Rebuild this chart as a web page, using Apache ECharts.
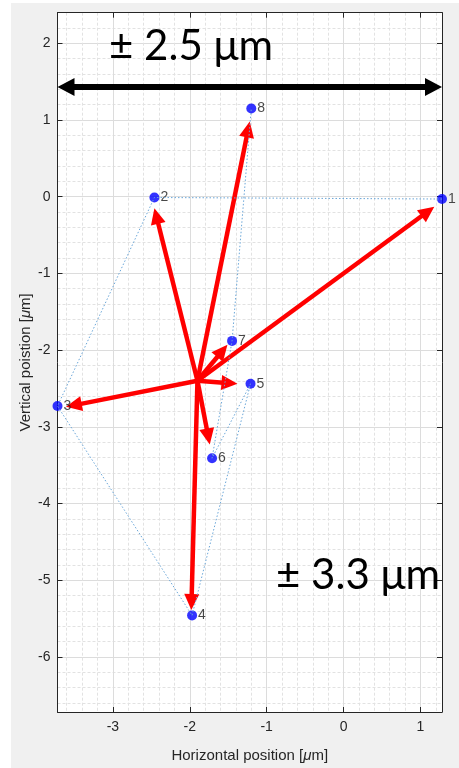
<!DOCTYPE html>
<html lang="en">
<head>
<meta charset="UTF-8">
<title>position scatter</title>
<script src="https://cdn.jsdelivr.net/npm/echarts@6/dist/echarts.min.js"></script>
<style>
    html, body { margin: 0; padding: 0; background: #fff; }
</style>
</head>
<body>
<div id="main" style="width:459px;height:768px"></div>
<script>
    // measured positions [um]
    var pointNames = ['1', '2', '3', '4', '5', '6', '7', '8'];
    var pointX = [1.28, -2.46, -3.72, -1.97, -1.21, -1.71, -1.45, -1.20];
    var pointY = [-0.03, -0.01, -2.73, -5.46, -2.44, -3.41, -1.88, 1.15];

    // red arrows: common start, tips
    var arrowStart = [-1.90, -2.40];
    var arrowEndX = [1.18, -2.46, -3.61, -1.98, -1.38, -1.74, -1.51, -1.22];
    var arrowEndY = [-0.13, -0.15, -2.74, -5.39, -2.44, -3.23, -1.93, 0.98];

    // black span arrow
    var spanX = [-3.72, 1.28];
    var spanY = 1.43;

    var xRange = [-3.72, 1.28];
    var yRange = [-6.72, 2.4];

    var axisColor = '#262626';
    var labelFont = 'Liberation Sans';

    var myChart = echarts.init(document.getElementById('main'));

    function arrowItem(color, lw, headLen, headW, both) {
        return function (params, api) {
            var s = api.coord([api.value(0), api.value(1)]);
            var e = api.coord([api.value(2), api.value(3)]);
            var dx = e[0] - s[0], dy = e[1] - s[1];
            var len = Math.sqrt(dx * dx + dy * dy);
            var ux = dx / len, uy = dy / len, nx = -uy, ny = ux;
            var bx = e[0] - ux * headLen, by = e[1] - uy * headLen;
            var sx = s[0], sy = s[1];
            var kids = [];
            if (both) {
                sx = s[0] + ux * headLen;
                sy = s[1] + uy * headLen;
                kids.push({
                    type: 'polygon',
                    shape: { points: [[s[0], s[1]], [sx + nx * headW / 2, sy + ny * headW / 2], [sx - nx * headW / 2, sy - ny * headW / 2]] },
                    style: { fill: color }
                });
            }
            kids.push({
                type: 'line',
                shape: { x1: both ? sx - ux * 2 : sx, y1: both ? sy - uy * 2 : sy, x2: bx + ux * 2, y2: by + uy * 2 },
                style: { stroke: color, lineWidth: lw }
            });
            kids.push({
                type: 'polygon',
                shape: { points: [[e[0], e[1]], [bx + nx * headW / 2, by + ny * headW / 2], [bx - nx * headW / 2, by - ny * headW / 2]] },
                style: { fill: color }
            });
            return { type: 'group', children: kids };
        };
    }

    var pathData = pointX.map(function (x, i) { return [x, pointY[i]]; });
    var pointData = pointX.map(function (x, i) { return { value: [x, pointY[i]], name: pointNames[i] }; });
    var redArrows = arrowEndX.map(function (x, i) { return [arrowStart[0], arrowStart[1], x, arrowEndY[i]]; });
    var blackArrow = [[spanX[0], spanY, spanX[1], spanY]];

    var baseAxis = {
        type: 'value',
        axisLine: { show: true, onZero: false, lineStyle: { color: axisColor, width: 1 } },
        axisTick: { show: true, inside: true, length: 5, lineStyle: { color: axisColor } },
        axisLabel: { show: false },
        splitLine: { show: false }
    };

    var option = {
        animation: false,
        backgroundColor: '#f0f0f0',
        graphic: [
            { type: 'rect', left: 0, top: 0, shape: { width: 11, height: 768 }, style: { fill: '#fff' } },
            { type: 'rect', left: 0, top: 0, shape: { width: 459, height: 3 }, style: { fill: '#fff' } },
            { type: 'text', x: 109, y: 46, style: { text: '± 2.5 μm', font: '42px Lato', fill: '#000', verticalAlign: 'middle' }, z: 100 },
            { type: 'text', x: 276, y: 575, style: { text: '± 3.3 μm', font: '42px Lato', fill: '#000', verticalAlign: 'middle' }, z: 100 }
        ],
        grid: {
            left: 57.5, right: 17, top: 12.7, bottom: 52.3,
            show: true, backgroundColor: '#fff', borderWidth: 0
        },
        xAxis: [{
            type: 'value', min: xRange[0], max: xRange[1], position: 'bottom',
            name: 'Horizontal position [{mu|μ}m]', nameLocation: 'middle', nameGap: 36, nameMoveOverlap: false,
            nameTextStyle: { fontFamily: labelFont, fontSize: 15, color: axisColor, rich: { mu: { fontFamily: labelFont, fontSize: 15, fontStyle: 'italic', color: axisColor } } },
            axisLine: { show: true, onZero: false, lineStyle: { color: axisColor, width: 1 } },
            axisTick: { show: true, inside: true, length: 5, lineStyle: { color: axisColor } },
            axisLabel: { fontFamily: labelFont, fontSize: 14, color: axisColor, margin: 8, showMinLabel: false, showMaxLabel: false },
            splitLine: { show: true, lineStyle: { color: '#dcdcdc', width: 1 } },
            minorTick: { show: false, splitNumber: 5 },
            minorSplitLine: { show: true, lineStyle: { color: '#e2e2e2', width: 1, type: [3, 2] } }
        }, Object.assign({}, baseAxis, { min: xRange[0], max: xRange[1], position: 'top' })],
        yAxis: [{
            type: 'value', min: yRange[0], max: yRange[1], position: 'left',
            splitNumber: 9, minInterval: 1, maxInterval: 1,
            name: 'Vertical poistion [{mu|μ}m]', nameLocation: 'middle', nameGap: 24, nameMoveOverlap: false,
            nameTextStyle: { fontFamily: labelFont, fontSize: 15, color: axisColor, rich: { mu: { fontFamily: labelFont, fontSize: 15, fontStyle: 'italic', color: axisColor } } },
            axisLine: { show: true, onZero: false, lineStyle: { color: axisColor, width: 1 } },
            axisTick: { show: true, inside: true, length: 5, lineStyle: { color: axisColor } },
            axisLabel: { fontFamily: labelFont, fontSize: 14, color: axisColor, margin: 7, showMinLabel: false, showMaxLabel: false },
            splitLine: { show: true, lineStyle: { color: '#dcdcdc', width: 1 } },
            minorTick: { show: false, splitNumber: 5 },
            minorSplitLine: { show: true, lineStyle: { color: '#e2e2e2', width: 1, type: [3, 2] } }
        }, Object.assign({}, baseAxis, { min: yRange[0], max: yRange[1], position: 'right', splitNumber: 9, minInterval: 1, maxInterval: 1 })],
        series: [
            {
                name: 'path', type: 'line', data: pathData, showSymbol: false, silent: true,
                lineStyle: { color: '#6aa6d8', width: 1, type: [1.5, 2] }
            },
            {
                name: 'arrows', type: 'custom', data: redArrows,
                encode: { x: [0, 2], y: [1, 3] },
                renderItem: arrowItem('#ff0000', 4.5, 16, 15, false)
            },
            {
                name: 'points', type: 'scatter', data: pointData, clip: false,
                symbol: 'circle', symbolSize: 10,
                itemStyle: { color: '#0000ff' },
                label: { show: true, position: 'right', distance: 1, formatter: '{b}', fontFamily: labelFont, fontSize: 14, color: '#1a1a1a' }
            },
            {
                name: 'span', type: 'custom', data: blackArrow,
                encode: { x: [0, 2], y: [1, 3] },
                renderItem: arrowItem('#000000', 6, 17, 18, true)
            }
        ]
    };
    myChart.setOption(option);
</script>
</body>
</html>
